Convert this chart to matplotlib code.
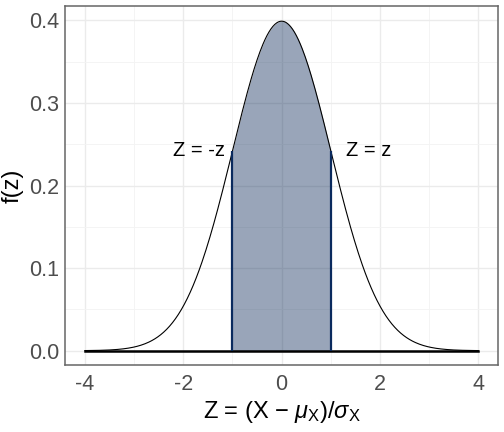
import numpy as np
import matplotlib
matplotlib.use("Agg")
import matplotlib.pyplot as plt
from matplotlib import rcParams

# standard normal: mean, sd, and the shaded interval +/- z
mu = 0.0
sigma = 1.0
z_cut = 1.0
x_range = [-4, 4]
x_ticks = [-4, -2, 0, 2, 4]
x_tick_labels = ["-4", "-2", "0", "2", "4"]
y_ticks = [0.0, 0.1, 0.2, 0.3, 0.4]
y_tick_labels = ["0.0", "0.1", "0.2", "0.3", "0.4"]
label_left = "Z = -z"
label_right = "Z = z"

rcParams.update({
    "font.family": ["Liberation Sans", "DejaVu Sans"],
    "mathtext.fontset": "custom",
    "mathtext.rm": "Liberation Sans",
    "mathtext.it": "Liberation Sans:italic",
})

xs = np.linspace(x_range[0], x_range[1], 401)
dens = np.exp(-0.5 * ((xs - mu) / sigma) ** 2) / (sigma * np.sqrt(2 * np.pi))
inside = (xs >= -z_cut) & (xs <= z_cut)
f_cut = np.exp(-0.5 * (z_cut / sigma) ** 2) / (sigma * np.sqrt(2 * np.pi))

fig = plt.figure(figsize=(5.04, 4.32), dpi=100)
ax = fig.add_axes([0.1296, 0.1544, 0.8585, 0.8324])

ax.fill_between(xs[inside], 0, dens[inside], color="#002050", alpha=0.4, linewidth=0, zorder=2)
ax.plot(xs, dens, color="black", linewidth=0.8, zorder=3)
ax.plot(x_range, [0, 0], color="black", linewidth=1.8, zorder=4)
ax.vlines([-z_cut, z_cut], 0, f_cut, color="#0a2a5e", linewidth=1.6, zorder=4)

ax.text(-z_cut - 0.15, f_cut, label_left, ha="right", va="center", fontsize=14.5, color="black")
ax.text(z_cut + 0.3, f_cut, label_right, ha="left", va="center", fontsize=14.5, color="black")

ax.set_xlim(-4.4, 4.4)
ax.set_ylim(-0.0177, 0.4177)
ax.set_xticks(x_ticks)
ax.set_xticklabels(x_tick_labels)
ax.set_yticks(y_ticks)
ax.set_yticklabels(y_tick_labels)
ax.set_xticks([-3, -1, 1, 3], minor=True)
ax.set_yticks([0.05, 0.15, 0.25, 0.35], minor=True)
ax.tick_params(which="major", labelsize=15.5, labelcolor="#4d4d4d", length=0)
ax.tick_params(axis="y", pad=4.5)
ax.tick_params(axis="x", pad=6)
ax.tick_params(which="minor", length=0)

ax.grid(which="major", color="#ebebeb", linewidth=1.0, zorder=0)
ax.grid(which="minor", color="#f3f3f3", linewidth=0.6, zorder=0)
ax.set_axisbelow(True)
for s in ax.spines.values():
    s.set_color("#666666")
    s.set_linewidth(1.1)

ax.set_xlabel(r"Z = (X $-$ $\mu_\mathrm{X}$)/$\sigma_\mathrm{X}$", fontsize=17, labelpad=3)
ax.set_ylabel("f(z)", fontsize=17, labelpad=4)

plt.savefig("out.png", dpi=100)
plt.close()
